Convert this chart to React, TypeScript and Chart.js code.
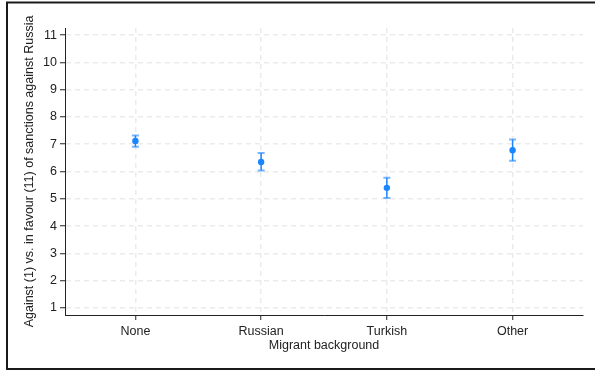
import React, { useEffect, useRef } from "react";
import { Chart, registerables } from "chart.js";

Chart.register(...registerables);

const categories = ["None", "Russian", "Turkish", "Other"];
const estimates = [7.12, 6.35, 5.4, 6.78];
const lowerCI = [6.91, 6.04, 5.03, 6.39];
const upperCI = [7.32, 6.68, 5.77, 7.17];
const yTicks = [1, 2, 3, 4, 5, 6, 7, 8, 9, 10, 11];

const BLUE = "#1a86ff";
const FONT = "'Liberation Sans', Arial, sans-serif";
const FS = 12.5;

const errorBarPlugin = {
  id: "errorBars",
  afterDatasetsDraw(chart: any) {
    const { ctx, scales } = chart;
    const xs = scales.x;
    const ys = scales.y;
    ctx.save();
    for (let i = 0; i < categories.length; i++) {
      const x = xs.getPixelForValue(i + 1);
      const yl = ys.getPixelForValue(lowerCI[i]);
      const yu = ys.getPixelForValue(upperCI[i]);
      ctx.strokeStyle = BLUE;
      ctx.lineWidth = 1.5;
      ctx.beginPath();
      ctx.moveTo(x, yl);
      ctx.lineTo(x, yu);
      ctx.stroke();
      ctx.strokeStyle = "rgba(26,134,255,0.6)";
      ctx.lineWidth = 2;
      ctx.beginPath();
      ctx.moveTo(x - 3.5, yl);
      ctx.lineTo(x + 3.5, yl);
      ctx.moveTo(x - 3.5, yu);
      ctx.lineTo(x + 3.5, yu);
      ctx.stroke();
    }
    ctx.restore();
  },
};

const framePlugin = {
  id: "frame",
  afterDraw(chart: any) {
    const { ctx } = chart;
    ctx.save();
    ctx.strokeStyle = "#1a1a1a";
    ctx.lineWidth = 2;
    ctx.strokeRect(7, 2.5, 600, 366.5);
    ctx.restore();
  },
};

export default function App() {
  const ref = useRef<HTMLCanvasElement | null>(null);
  useEffect(() => {
    document.body.style.margin = "0";
    const canvas = ref.current!;
    const chart = new Chart(canvas, {
      type: "scatter",
      data: {
        datasets: [
          {
            data: estimates.map((v, i) => ({ x: i + 1, y: v })),
            backgroundColor: BLUE,
            borderColor: BLUE,
            pointRadius: 3.2,
            pointBorderWidth: 0,
          },
        ],
      },
      options: {
        animation: false,
        responsive: false,
        devicePixelRatio: 1,
        events: [],
        layout: { padding: { left: 15, top: 28, right: 12, bottom: 15 } },
        plugins: {
          legend: { display: false },
          tooltip: { enabled: false },
        },
        scales: {
          x: {
            type: "linear",
            min: 0.44,
            max: 4.56,
            afterBuildTicks: (s: any) => {
              s.ticks = categories.map((_, i) => ({ value: i + 1 }));
            },
            afterFit: (s: any) => {
              s.height = 40;
            },
            ticks: {
              autoSkip: false,
              maxRotation: 0,
              padding: 4,
              color: "#222",
              font: { family: FONT, size: FS },
              callback: (v: any) => categories[Number(v) - 1] ?? "",
            },
            grid: {
              color: "#ebebeb",
              lineWidth: 1.5,
              tickColor: "#222",
              tickLength: 5,
              tickWidth: 1,
            },
            border: { display: true, color: "#222", width: 1, dash: [5, 4] },
            title: {
              display: true,
              text: "Migrant background",
              color: "#222",
              font: { family: FONT, size: FS },
              padding: { top: 0, bottom: 2 },
            },
          },
          y: {
            min: 0.74,
            max: 11.26,
            afterBuildTicks: (s: any) => {
              s.ticks = yTicks.map((v) => ({ value: v }));
            },
            afterFit: (s: any) => {
              s.width = 50;
            },
            ticks: {
              padding: 3,
              color: "#222",
              font: { family: FONT, size: FS },
            },
            grid: {
              color: "#ebebeb",
              lineWidth: 1.5,
              tickColor: "#222",
              tickLength: 5,
              tickWidth: 1,
            },
            border: { display: true, color: "#222", width: 1, dash: [5, 4] },
            title: {
              display: true,
              text: "Against (1) vs. in favour (11) of sanctions against Russia",
              color: "#222",
              font: { family: FONT, size: FS },
              padding: { top: 7, bottom: 0 },
            },
          },
        },
      },
      plugins: [errorBarPlugin, framePlugin],
    } as any);
    return () => chart.destroy();
  }, []);
  return <canvas ref={ref} width={595} height={370} style={{ display: "block" }} />;
}
